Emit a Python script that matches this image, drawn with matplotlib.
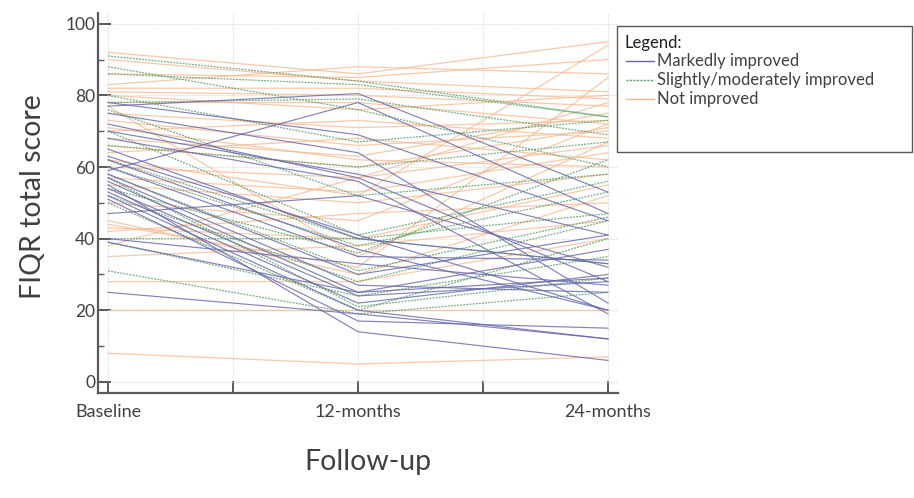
import matplotlib
matplotlib.use("Agg")
import matplotlib.pyplot as plt
from matplotlib.patches import Rectangle
from matplotlib.lines import Line2D

plt.rcParams['font.family'] = ['Lato', 'DejaVu Sans']

timepoints = ["Baseline", "12-months", "24-months"]

# Each row: FIQR total score at Baseline, 12-months, 24-months
markedly = [
    [77, 80.5, 53], [59, 78, 47], [78, 69, 45], [72, 57, 28], [70, 58, 41],
    [65, 40, 33], [62, 37, 20], [60, 35, 34], [58, 30, 41], [56, 25, 37],
    [54, 24, 28], [53, 22, 30], [52, 20, 12], [51, 17, 15], [47, 52, 32],
    [40, 33, 27], [39, 25, 29], [25, 19, 12], [55, 14, 6], [63, 41, 20],
    [68, 56, 19], [57, 27, 25], [75, 64, 22],
]
slightly = [
    [91, 84, 74], [88, 76, 60], [86, 83, 74], [80, 67, 73], [78, 79, 69],
    [76, 52, 58], [70, 41, 56], [62, 40, 47], [60, 38, 53], [58, 31, 46],
    [52, 28, 45], [50, 20, 40], [40, 40, 33], [39, 24, 35], [31, 19, 25],
    [54, 36, 62], [66, 60, 67], [57, 21, 29],
]
not_improved = [
    [92, 86, 95], [90, 84, 81], [86, 85, 90], [83, 88, 86], [82, 82, 79],
    [81, 80, 77], [80, 76, 80], [78, 78, 72], [75, 71, 73], [73, 66, 70],
    [70, 73, 68], [68, 63, 75], [66, 60, 71], [64, 68, 62], [60, 57, 66],
    [57, 53, 64], [55, 50, 58], [50, 45, 72], [45, 30, 52], [43, 40, 55],
    [42, 47, 50], [38, 57, 78], [35, 38, 45], [28, 28, 40], [20, 20, 20],
    [8, 5, 7], [62, 52, 94], [77, 35, 67], [44, 32, 85], [71, 62, 60],
]

c_mark = "#6464a8"
c_slight = "#5a9e66"
c_not = "#f6b88e"

W, H = 914, 498
fig = plt.figure(figsize=(W / 100, H / 100), dpi=100)
ax = fig.add_axes([98 / W, 1 - 393 / H, 520 / W, 380 / H])

x = [0, 1, 2]
for row in not_improved:
    ax.plot(x, row, color=c_not, lw=0.9, alpha=0.75, zorder=2)
for row in slightly:
    ax.plot(x, row, color=c_slight, lw=0.9, ls=(0, (1.5, 1)), alpha=0.85, zorder=3)
for row in markedly:
    ax.plot(x, row, color=c_mark, lw=0.85, alpha=0.8, zorder=4)

ax.set_xlim(-0.04, 2.04)
ax.set_ylim(-3.1, 103)
ax.set_xticks([0, 0.5, 1, 1.5, 2])
ax.set_xticklabels([timepoints[0], "", timepoints[1], "", timepoints[2]])
ax.set_yticks([0, 20, 40, 60, 80, 100])
ax.set_yticks([10, 30, 50, 70, 90], minor=True)
ax.grid(True, which='major', color="#dcdcdc", lw=0.8, ls=(0, (1, 1)))
ax.set_axisbelow(True)
for s in ['top', 'right']:
    ax.spines[s].set_visible(False)
for s in ['left', 'bottom']:
    ax.spines[s].set_color("#595959")
    ax.spines[s].set_linewidth(1.6)
ax.tick_params(axis='both', which='major', direction='in', length=9, width=1.4,
               color="#595959", labelcolor="#404040")
ax.tick_params(axis='y', which='major', pad=2, labelsize=12.5)
ax.tick_params(axis='x', which='major', pad=8, labelsize=13)
ax.tick_params(axis='y', which='minor', direction='in', length=4, width=1.0, color="#595959")

fig.text(33 / W, 1 - 197 / H, "FIQR total score", rotation=90, ha='center', va='center',
         fontsize=20.5, color="#404040")
fig.text(368 / W, 1 - 462 / H, "Follow-up", ha='center', va='center',
         fontsize=20.5, color="#404040")

# legend box
fig.add_artist(Rectangle((617 / W, 1 - 152 / H), 295 / W, 126 / H, transform=fig.transFigure,
                         fill=False, edgecolor="#595959", lw=1.0))
fig.text(624 / W, 1 - 43 / H, "Legend:", ha='left', va='center', fontsize=12, color="#202020")
for yy, lab, col, ls in [(61, "Markedly improved", c_mark, '-'),
                         (80, "Slightly/moderately improved", c_slight, (0, (1.5, 1))),
                         (99, "Not improved", c_not, '-')]:
    fig.add_artist(Line2D([626 / W, 654 / W], [1 - yy / H, 1 - yy / H], transform=fig.transFigure,
                          color=col, lw=1.0, ls=ls))
    fig.text(657 / W, 1 - yy / H, lab, ha='left', va='center', fontsize=12, color="#404040")

fig.savefig("out.png", dpi=100)
